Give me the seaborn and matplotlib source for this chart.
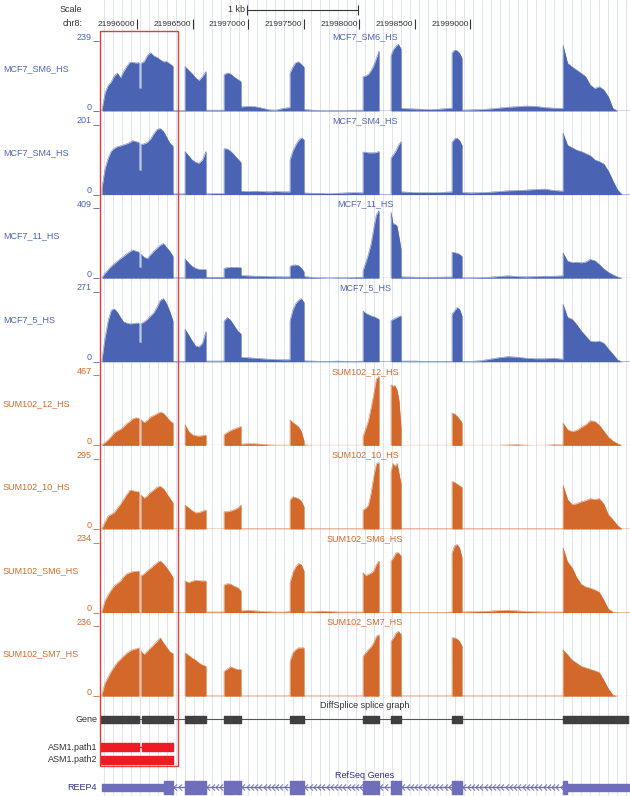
import numpy as np
import matplotlib
matplotlib.use("Agg")
import matplotlib.pyplot as plt
from matplotlib.path import Path
from matplotlib.patches import Rectangle
import seaborn as sns

sns.set_theme(style="white")
plt.rcParams["font.family"] = ["Liberation Sans", "DejaVu Sans"]

# chr8 window shown in the browser
region = [21995667, 22000437]
pos_ticks = [21996000, 21996500, 21997000, 21997500, 21998000, 21998500, 21999000]
scale_bar = [21996990, 21997990]

track_names = ["MCF7_SM6_HS", "MCF7_SM4_HS", "MCF7_11_HS", "MCF7_5_HS",
               "SUM102_12_HS", "SUM102_10_HS", "SUM102_SM6_HS", "SUM102_SM7_HS"]
track_max = [239, 201, 409, 271, 467, 295, 234, 236]

# coverage is read per segment (lead, exon1a, dip, exon1b, intron, exon2, ... exon8, tail)
seg_edges = [21995667, 21995685, 21996018, 21996036, 21996324, 21996432, 21996621,
             21996783, 21996936, 21997377, 21997503, 21998034, 21998178, 21998286,
             21998376, 21998835, 21998925, 21999834, 22000365, 22000437]

mcf7_sm6 = [[0, 0], [5, 62, 88, 100, 120, 130, 113, 135, 152, 166, 166, 164, 165], [78, 78],
            [163, 169, 190, 199, 188, 183, 175, 168, 169, 161, 153], [2, 2],
            [152, 140, 128, 114, 104, 118, 135], [3, 3, 3], [124, 130, 126, 116, 108, 100],
            [14, 16, 15, 10, 4, 3, 9, 12], [130, 150, 165, 168, 160, 150],
            [5, 3, 2, 2, 2, 2, 3, 3], [117, 120, 125, 138, 155, 180, 205], [0, 0],
            [190, 210, 222, 228, 212], [9, 8, 7, 6, 5, 6, 8, 10], [198, 208, 206, 198, 180],
            [3, 4, 5, 7, 10, 13, 15, 17, 16, 12, 10, 9],
            [225, 163, 151, 140, 129, 117, 89, 77, 83, 72, 49, 9, 0, 0], [0, 0]]
mcf7_sm4 = [[0, 0], [20, 75, 105, 125, 133, 138, 140, 143, 146, 150, 155, 152, 150], [70, 70],
            [144, 146, 150, 160, 175, 187, 190, 182, 165, 148, 139], [2, 2],
            [124, 112, 100, 93, 90, 100, 124], [2, 3, 3], [132, 131, 124, 114, 103, 92],
            [10, 9, 10, 9, 8, 9, 8, 8], [100, 125, 142, 155, 163, 158],
            [5, 4, 4, 3, 4, 5, 6, 5], [122, 122, 120, 120, 120, 121, 124], [0, 0],
            [105, 115, 126, 142, 152], [8, 7, 6, 6, 6, 6, 7, 8], [150, 160, 162, 156, 142],
            [6, 5, 6, 7, 9, 11, 12, 13, 15, 16, 12, 10],
            [177, 142, 135, 128, 124, 118, 112, 100, 95, 88, 68, 40, 14, 0], [0, 0]]
mcf7_11 = [[0, 0], [5, 30, 50, 70, 85, 100, 115, 128, 143, 155, 165, 158, 152], [64, 64],
           [140, 122, 115, 138, 158, 176, 193, 203, 180, 158, 128], [2, 2],
           [113, 90, 70, 58, 52, 51, 51], [6, 6, 6], [58, 62, 64, 64, 64, 62],
           [16, 14, 12, 12, 10, 9, 8, 8], [70, 76, 78, 74, 60, 38],
           [10, 5, 3, 2, 3, 3, 5, 6], [45, 90, 140, 200, 290, 370, 395], [0, 0],
           [386, 318, 316, 305, 240, 170], [8, 7, 6, 6, 6, 6, 7, 7], [152, 150, 146, 140, 128],
           [3, 3, 4, 6, 10, 14, 10, 8, 10, 12, 12, 14],
           [148, 100, 92, 94, 90, 95, 110, 103, 80, 55, 35, 20, 8, 0], [0, 0]]
mcf7_5 = [[0, 0], [10, 95, 160, 200, 205, 192, 172, 155, 150, 147, 148, 150, 150], [75, 75],
          [148, 155, 165, 178, 190, 212, 238, 245, 225, 195, 158], [2, 2],
          [126, 105, 82, 62, 58, 72, 118], [3, 3, 3], [158, 172, 160, 140, 120, 108],
          [18, 16, 14, 12, 10, 9, 8, 8], [159, 200, 225, 238, 245, 230],
          [4, 3, 2, 2, 3, 2, 2, 3], [197, 188, 183, 178, 175, 170, 165], [0, 0],
          [160, 165, 170, 175, 178], [3, 3, 3, 2, 2, 2, 2, 2], [184, 197, 210, 204, 178],
          [2, 2, 4, 10, 16, 20, 18, 14, 12, 12, 14, 10],
          [223, 172, 165, 145, 120, 100, 80, 78, 80, 72, 50, 30, 8, 0], [0, 0]]
sum102_12 = [[0, 0], [4, 20, 38, 60, 85, 98, 108, 125, 145, 160, 178, 185, 180], [0, 0],
             [172, 152, 168, 190, 200, 212, 222, 215, 190, 165, 148], [0, 0],
             [138, 95, 72, 65, 62, 65, 70], [0, 0, 0], [71, 88, 100, 110, 118, 127],
             [8, 12, 11, 8, 3, 2, 2, 2], [171, 152, 140, 125, 95, 30],
             [3, 1, 1, 1, 1, 1, 1, 1], [60, 110, 165, 250, 340, 445, 460], [0, 0],
             [405, 395, 400, 370, 300, 120], [1, 1, 1, 1, 1, 1, 1, 1], [216, 210, 195, 175, 150],
             [1, 1, 1, 1, 1, 3, 4, 2, 1, 1, 4, 3],
             [150, 105, 93, 100, 120, 138, 165, 160, 135, 95, 55, 30, 12, 0], [0, 0]]
sum102_10 = [[0, 0], [3, 30, 55, 62, 70, 88, 105, 125, 145, 163, 162, 158, 157], [0, 0],
             [143, 130, 140, 155, 165, 176, 180, 170, 150, 130, 110], [0, 0],
             [101, 90, 78, 68, 70, 75, 80], [0, 0, 0], [73, 73, 76, 82, 88, 101],
             [1, 1, 1, 1, 1, 1, 1, 1], [122, 136, 133, 128, 118, 94],
             [1, 1, 1, 1, 1, 1, 1, 1], [80, 87, 100, 150, 220, 275, 280], [0, 0],
             [242, 277, 263, 277, 235, 192], [1, 1, 1, 1, 1, 1, 1, 1], [200, 197, 190, 182, 176],
             [1, 1, 1, 1, 1, 1, 1, 1, 1, 1, 1, 1],
             [185, 125, 103, 107, 115, 120, 128, 125, 128, 105, 60, 40, 15, 0], [0, 0]]
sum102_sm6 = [[0, 0], [6, 40, 60, 76, 90, 98, 106, 120, 130, 134, 137, 138, 139], [0, 0],
              [123, 130, 140, 148, 158, 167, 173, 163, 150, 135, 117], [0, 0],
              [106, 100, 105, 108, 107, 106, 106], [2, 2, 2], [92, 97, 95, 88, 84, 72],
              [6, 8, 6, 4, 3, 2, 2, 3], [100, 134, 153, 164, 161, 139],
              [2, 3, 5, 4, 2, 2, 2, 2], [134, 123, 128, 132, 139, 161, 173], [0, 0],
              [173, 184, 200, 200, 189], [1, 1, 1, 1, 1, 1, 1, 2], [200, 223, 228, 217, 184],
              [2, 3, 4, 5, 7, 8, 6, 4, 3, 2, 2, 2],
              [217, 170, 150, 118, 95, 86, 82, 76, 68, 42, 12, 2, 0, 0], [0, 0]]
sum102_sm7 = [[0, 0], [8, 45, 65, 85, 100, 115, 125, 135, 145, 152, 157, 160, 163], [0, 0],
              [152, 141, 152, 163, 174, 185, 197, 180, 165, 150, 144], [0, 0],
              [146, 138, 129, 122, 112, 105, 101], [1, 1, 1], [84, 92, 99, 94, 90, 90],
              [1, 1, 1, 1, 1, 1, 1, 1], [118, 146, 157, 163, 163, 163],
              [1, 1, 1, 1, 1, 1, 1, 1], [135, 146, 157, 166, 180, 202, 208], [0, 0],
              [185, 197, 213, 219, 208], [1, 1, 1, 1, 1, 1, 1, 1], [197, 197, 193, 185, 169],
              [1, 1, 1, 1, 1, 1, 1, 1, 1, 1, 1, 1],
              [157, 140, 122, 112, 101, 96, 91, 86, 80, 54, 25, 4, 0, 0], [0, 0]]
coverage = [mcf7_sm6, mcf7_sm4, mcf7_11, mcf7_5, sum102_12, sum102_10, sum102_sm6, sum102_sm7]

# gene models
gene_exons = [(21995667, 21996018), (21996045, 21996324), (21996432, 21996621),
              (21996783, 21996936), (21997377, 21997503), (21998034, 21998178),
              (21998286, 21998376), (21998835, 21998925), (21999834, 22000419)]
asm1_path1 = [(21995667, 21996018), (21996045, 21996324)]
asm1_path2 = [(21995667, 21996324)]
reep4_utr = [(21995685, 21996243), (21999870, 22000437)]
reep4_cds = [(21996243, 21996324), (21996432, 21996621), (21996783, 21996936),
             (21997377, 21997503), (21998034, 21998178), (21998286, 21998376),
             (21998835, 21998925), (21999834, 21999870)]
reep4_introns = [(21996324, 21996432), (21996621, 21996783), (21996936, 21997377),
                 (21997503, 21998034), (21998178, 21998286), (21998376, 21998835),
                 (21998925, 21999834)]

# colours / layout (pixels of the 630x796 image)
W, H = 630, 796
blue, orange = "#4a64b3", "#d2682a"
grid_col = "#dde3f2"
red = "#e33a3a"
navy = "#2d2d86"
purple = "#6e6eba"
txt = "#333333"
plot_left = 100
top0, track_h, step = 41, 70, 83.6
fs = 6.5

fig = plt.figure(figsize=(W / 100, H / 100), dpi=100)

# genomic-x / pixel-y axes for grid, ruler and gene models
ax_g = fig.add_axes([plot_left / W, 0, (W - plot_left) / W, 1], zorder=0)
ax_g.set_xlim(region)
ax_g.set_ylim(H, 0)
ax_g.axis("off")
for gx in np.arange(region[0] + 36, region[1], 81):
    ax_g.axvline(gx, color=grid_col, lw=0.7, zorder=-1)

# ruler
ax_g.vlines(pos_ticks, 19, 29, color=txt, lw=0.8)
for p in pos_ticks:
    ax_g.text(p - 14, 24, str(p), ha="right", va="center", fontsize=6, color=txt)
ax_g.hlines(10, scale_bar[0], scale_bar[1], color=txt, lw=0.8)
ax_g.vlines(scale_bar, 5, 15, color=txt, lw=0.8)
ax_g.text(scale_bar[0] - 18, 9, "1 kb", ha="right", va="center", fontsize=fs, color=txt)

# coverage tracks
for i, (name, vmax, segs) in enumerate(zip(track_names, track_max, coverage)):
    top = top0 + i * step
    color = blue if i < 4 else orange
    ax = fig.add_axes([plot_left / W, 1 - (top + track_h) / H, (W - plot_left) / W, track_h / H], zorder=5)
    xs, ys = [], []
    for k, vals in enumerate(segs):
        xs.extend(np.linspace(seg_edges[k], seg_edges[k + 1], len(vals)))
        ys.extend(vals)
    ax.fill_between(xs, ys, color=color, lw=0)
    sns.lineplot(x=xs, y=ys, ax=ax, color=color, lw=0.3, estimator=None, sort=False)
    ax.axhline(0, color=color, lw=0.8)
    ax.set_xlim(region)
    ax.set_ylim(0, vmax)
    ax.axis("off")
    ax.patch.set_alpha(0)

# gene models
gy = 719
ax_g.hlines(gy, gene_exons[0][0], gene_exons[-1][1], color="#555555", lw=0.8, zorder=2)
ax_g.broken_barh([(a, b - a) for a, b in gene_exons], (gy - 3.5, 7), color="#3f3f3f", zorder=3)

ax_g.broken_barh([(a, b - a) for a, b in asm1_path1], (743, 8), color="#ec1c24", zorder=3)
ax_g.hlines(747, asm1_path1[0][1], asm1_path1[1][0], color="#ec1c24", lw=1, zorder=3)
ax_g.broken_barh([(a, b - a) for a, b in asm1_path2], (756, 8), color="#ec1c24", zorder=3)

ry = 787
ax_g.hlines(ry, reep4_utr[0][0], reep4_utr[-1][1], color=purple, lw=1, zorder=2)
ax_g.broken_barh([(a, b - a) for a, b in reep4_utr], (ry - 3.5, 7), color=purple, zorder=3)
ax_g.broken_barh([(a, b - a) for a, b in reep4_cds], (ry - 6.5, 13), color=purple, zorder=3)
chevron = Path([(0.5, 1), (-0.5, 0), (0.5, -1)], [Path.MOVETO, Path.LINETO, Path.LINETO])
for a, b in reep4_introns:
    cx = np.arange(a + 22, b - 12, 38)
    ax_g.plot(cx, np.full(len(cx), ry), ls="none", marker=chevron, ms=4.5,
              mfc="none", mec=purple, mew=0.7, zorder=3)

# pixel overlay for labels and highlight box
ax_p = fig.add_axes([0, 0, 1, 1], zorder=10)
ax_p.set_xlim(0, W)
ax_p.set_ylim(H, 0)
ax_p.axis("off")
ax_p.patch.set_alpha(0)

ax_p.text(82, 9, "Scale", ha="right", va="center", fontsize=fs, color=txt)
ax_p.text(83, 24, "chr8:", ha="right", va="center", fontsize=fs, color=txt)

for i, (name, vmax) in enumerate(zip(track_names, track_max)):
    top = top0 + i * step
    color = blue if i < 4 else orange
    ax_p.text(3, 69 + i * step, name, ha="left", va="center", fontsize=fs, color=color)
    ax_p.text(365, top - 4, name, ha="center", va="center", fontsize=fs, color=color)
    ax_p.text(92, top - 4, str(vmax), ha="right", va="center", fontsize=fs, color=color)
    ax_p.text(92, top + track_h - 4, "0", ha="right", va="center", fontsize=fs, color=color)
    ax_p.hlines([top, top + track_h], 93, 99, color=color, lw=0.6)

ax_p.text(365, 706, "DiffSplice splice graph", ha="center", va="center", fontsize=fs, color=txt)
ax_p.text(97, 719, "Gene", ha="right", va="center", fontsize=fs, color=txt)
ax_p.text(97, 747, "ASM1.path1", ha="right", va="center", fontsize=fs, color=txt)
ax_p.text(97, 760, "ASM1.path2", ha="right", va="center", fontsize=fs, color=txt)
ax_p.text(365, 775, "RefSeq Genes", ha="center", va="center", fontsize=fs, color=navy)
ax_p.text(97, 788, "REEP4", ha="right", va="center", fontsize=fs, color=navy)

ax_p.add_patch(Rectangle((100, 31), 78, 735, fill=False, edgecolor=red, lw=1))

fig.savefig("out.png", dpi=100)
